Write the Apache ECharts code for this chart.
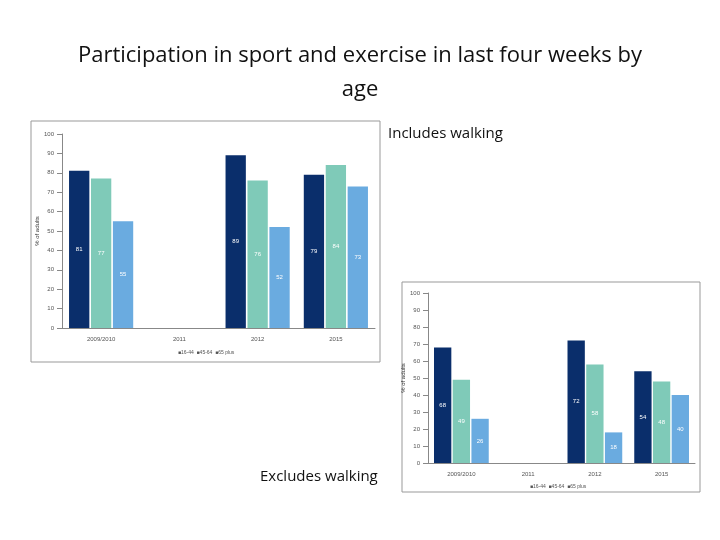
<!DOCTYPE html>
<html>
<head>
<meta charset="utf-8">
<script src="https://cdn.jsdelivr.net/npm/echarts@6/dist/echarts.min.js"></script>
<style>html,body{margin:0;padding:0;background:#fff}#c{width:720px;height:540px}</style>
</head>
<body>
<div id="c"></div>
<script>
const years = ['2009/2010', '2011', '2012', '2015'];
const seriesNames = ['16-44', '45-64', '65 plus'];
// includes walking
const incYoung = [81, null, 89, 79];
const incMid = [77, null, 76, 84];
const incOld = [55, null, 52, 73];
// excludes walking
const excYoung = [68, null, 72, 54];
const excMid = [49, null, 58, 48];
const excOld = [26, null, 18, 40];
const colors = ['#0a2e6b', '#7fcab8', '#6aabe0'];

const chart = echarts.init(document.getElementById('c'));

function axes(gi) {
  return {
    x: {
      type: 'category', gridIndex: gi, data: years,
      axisLine: { lineStyle: { color: '#888' } },
      axisTick: { lineStyle: { color: '#888' } },
      axisLabel: { fontSize: 6, color: '#555' }
    },
    y: {
      type: 'value', gridIndex: gi, min: 0, max: 100, interval: 10,
      name: '% of adults', nameLocation: 'middle', nameGap: 16, nameRotate: 90,
      nameTextStyle: { fontSize: 6, color: '#333' },
      axisLine: { show: true, lineStyle: { color: '#888' } },
      axisTick: { show: true },
      axisLabel: { fontSize: 6, color: '#555' },
      splitLine: { show: false }
    }
  };
}
const a0 = axes(0), a1 = axes(1);

function bars(data, i, gi) {
  return {
    name: seriesNames[i], type: 'bar', data: data,
    xAxisIndex: gi, yAxisIndex: gi, barGap: '8%', barCategoryGap: '18%',
    itemStyle: { color: colors[i] },
    label: { show: true, position: 'inside', color: '#fff', fontSize: 6 }
  };
}

chart.setOption({
  backgroundColor: '#fff',
  animation: false,
  title: {
    text: 'Participation in sport and exercise in last four weeks by\nage',
    left: 'center', top: 34,
    textStyle: { fontFamily: 'Open Sans', fontSize: 22, fontWeight: 'normal', color: '#111', lineHeight: 34 }
  },
  graphic: [
    { type: 'rect', shape: { x: 31, y: 121, width: 349, height: 241 }, style: { fill: 'none', stroke: '#999', lineWidth: 1 } },
    { type: 'rect', shape: { x: 402, y: 282, width: 298, height: 210 }, style: { fill: 'none', stroke: '#999', lineWidth: 1 } },
    { type: 'text', left: 388, top: 126, style: { text: 'Includes walking', fontSize: 15, fill: '#111', fontFamily: 'Open Sans' } },
    { type: 'text', left: 260, top: 469, style: { text: 'Excludes walking', fontSize: 15, fill: '#111', fontFamily: 'Open Sans' } },
    { type: 'text', left: 178, top: 350, style: { text: '■16-44  ■45-64  ■65 plus', fontSize: 5, fill: '#555' } },
    { type: 'text', left: 530, top: 484, style: { text: '■16-44  ■45-64  ■65 plus', fontSize: 5, fill: '#555' } }
  ],
  grid: [
    { left: 62, top: 134, width: 313, height: 194 },
    { left: 428, top: 293, width: 267, height: 170 }
  ],
  xAxis: [a0.x, a1.x],
  yAxis: [a0.y, a1.y],
  series: [
    bars(incYoung, 0, 0), bars(incMid, 1, 0), bars(incOld, 2, 0),
    bars(excYoung, 0, 1), bars(excMid, 1, 1), bars(excOld, 2, 1)
  ]
});
</script>
</body>
</html>
